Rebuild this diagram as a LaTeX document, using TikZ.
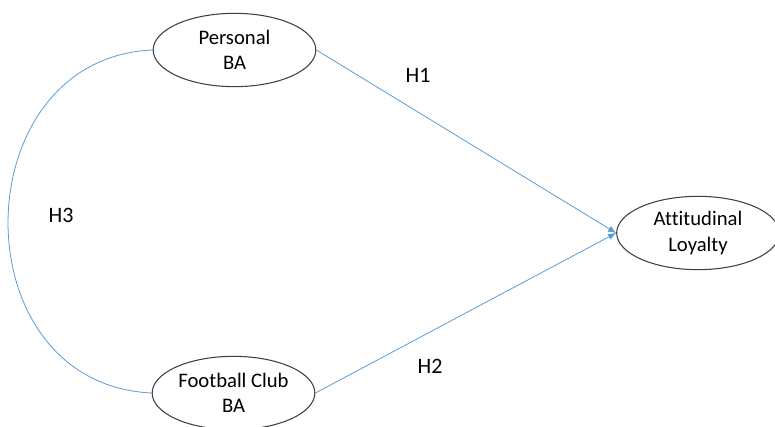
\documentclass[tikz,border=0pt]{standalone}
\usepackage{fontspec}
\setmainfont[Ligatures=NoCommon]{Carlito}
\usetikzlibrary{shapes.geometric,arrows.meta}

\definecolor{linkblue}{RGB}{91,155,213}
\definecolor{rimgray}{RGB}{64,64,64}

\tikzset{
  construct/.style={ellipse, draw=rimgray, line width=0.8pt, fill=white,
    minimum width=122pt, minimum height=55pt, inner sep=0pt, align=center,
    font=\fontsize{15.5}{19}\selectfont},
  link/.style={draw=linkblue, line width=0.6pt},
  hyp/.style={inner sep=0pt, font=\fontsize{16.5}{18}\selectfont}
}

\begin{document}
\begin{tikzpicture}[x=0.75pt,y=0.75pt,yscale=-1]
\useasboundingbox (0,0) rectangle (775,427);

%Shape: Ellipse [id:personal]
\node [construct] (personal) at (234.5,50) {Personal\\BA};
%Shape: Ellipse [id:club]
\node [construct] (club) at (233.5,393) {Football Club\\BA};
%Shape: Ellipse [id:loyalty]
\node [construct] (loyalty) at (698,233) {Attitudinal\\Loyalty};

%Straight Lines [id:h1]
\draw [link, -{Latex[length=6pt,width=5pt]}] (personal.east) -- (loyalty.west);
%Straight Lines [id:h2]
\draw [link, -{Latex[length=6pt,width=5pt]}] (club.east) -- (loyalty.west);
%Curve Lines [id:h3]
\draw [link] (personal.west) .. controls (-38,58) and (-42,384) .. (club.west);

% Text Node
\node [hyp] (h1) at (418,75) {H1};
% Text Node
\node [hyp] (h2) at (430,366) {H2};
% Text Node
\node [hyp] (h3) at (61,215) {H3};
\end{tikzpicture}
\end{document}
